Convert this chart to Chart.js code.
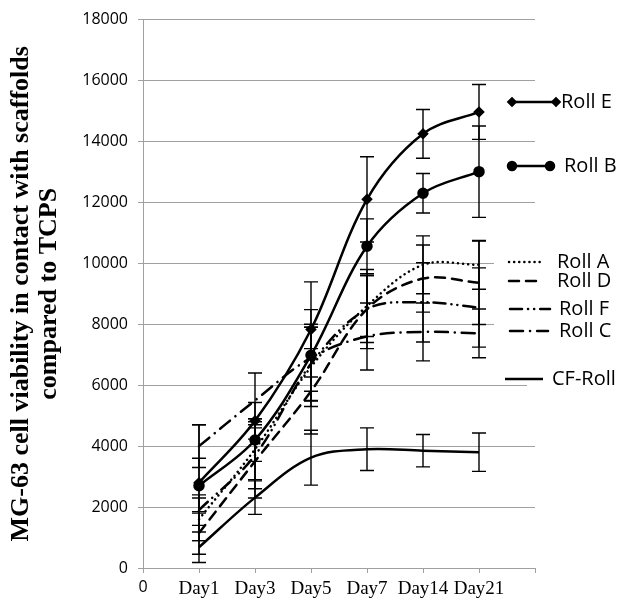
<!DOCTYPE html>
<html>
<head>
<meta charset="utf-8">
<script src="https://cdn.jsdelivr.net/npm/chart.js@4.4.1/dist/chart.umd.min.js"></script>
<style>
  html, body { margin: 0; padding: 0; background: #fff; }
  #wrap { width: 626px; height: 602px; }
</style>
</head>
<body>
<div id="wrap"><canvas id="c" width="626" height="602"></canvas></div>
<script>
// categories ("0" at the origin, blank slot at the right end like the Excel original)
const days = ["0", "Day1", "Day3", "Day5", "Day7", "Day14", "Day21", ""];

// mean values
const rollE  = [null, 2800, 4830, 7830, 12100, 14250, 14970, null];
const rollB  = [null, 2700, 4200, 6980, 10560, 12300, 13010, null];
const rollA  = [null, 1600, 3900, 6600, 8600, 9950, 9950, null];
const rollD  = [null, 1150, 3500, 5800, 8500, 9500, 9360, null];
const rollF  = [null, 1900, 3700, 6700, 8500, 8720, 8550, null];
const rollC  = [null, 4000, 5500, 6900, 7600, 7750, 7700, null];
const cfRoll = [null, 680, 2310, 3620, 3900, 3850, 3800, null];

// error bar half heights
const errE  = [null, 1900, 600, 1560, 1400, 800, 900, null];
const errB  = [null, 900, 700, 1500, 900, 650, 1500, null];
const errA  = [null, 700, 1000, 1300, 1000, 950, 800, null];
const errD  = [null, 700, 1200, 1400, 1100, 1100, 1370, null];
const errF  = [null, 500, 1100, 1200, 1300, 1300, 1300, null];
const errC  = [null, 700, 900, 1100, 1100, 950, 800, null];
const errCF = [null, 500, 550, 900, 700, 530, 630, null];

const yTicks = [0, 2000, 4000, 6000, 8000, 10000, 12000, 14000, 16000, 18000];

function line(label, data, err, dash, extra) {
  return Object.assign({
    label: label,
    data: data,
    err: err,
    borderColor: "#000",
    backgroundColor: "#000",
    borderWidth: 2.5,
    borderDash: dash,
    borderCapStyle: dash.length ? "round" : "butt",
    tension: 0.35,
    pointRadius: 0,
    fill: false
  }, extra || {});
}

const datasets = [
  line("Roll E", rollE, errE, [], { pointStyle: "rectRot", pointRadius: 4 }),
  line("Roll B", rollB, errB, [], { pointStyle: "circle", pointRadius: 4.5 }),
  line("Roll A", rollA, errA, [0.1, 5]),
  line("Roll D", rollD, errD, [10, 7]),
  line("Roll F", rollF, errF, [12, 6, 0.1, 6, 0.1, 6]),
  line("Roll C", rollC, errC, [13, 7, 0.1, 7]),
  line("CF-Roll", cfRoll, errCF, [])
];

// vertical error bars with caps
const errorBars = {
  id: "errorBars",
  afterDatasetsDraw(chart) {
    const ctx = chart.ctx;
    const y = chart.scales.y;
    ctx.save();
    ctx.strokeStyle = "#000";
    ctx.lineWidth = 1.4;
    chart.data.datasets.forEach((ds, di) => {
      const meta = chart.getDatasetMeta(di);
      ds.data.forEach((v, i) => {
        if (v == null || ds.err[i] == null) return;
        const x = meta.data[i].x;
        const top = y.getPixelForValue(v + ds.err[i]);
        const bot = y.getPixelForValue(v - ds.err[i]);
        ctx.beginPath();
        ctx.moveTo(x, top); ctx.lineTo(x, bot);
        ctx.moveTo(x - 7, top); ctx.lineTo(x + 7, top);
        ctx.moveTo(x - 7, bot); ctx.lineTo(x + 7, bot);
        ctx.stroke();
      });
    });
    ctx.restore();
  }
};

// hand placed legend on the right, as in the original
const sideLegend = {
  id: "sideLegend",
  afterDraw(chart) {
    const ctx = chart.ctx;
    const spots = [
      { x0: 512, x1: 556, y: 102, tx: 561 },
      { x0: 512, x1: 550, y: 166, tx: 564 },
      { x0: 509, x1: 543, y: 262, tx: 557 },
      { x0: 509, x1: 540, y: 281, tx: 557 },
      { x0: 510, x1: 550, y: 309, tx: 559 },
      { x0: 510, x1: 548, y: 331, tx: 559 },
      { x0: 505, x1: 543, y: 379, tx: 552 }
    ];
    ctx.save();
    ctx.fillStyle = "#fff";
    ctx.fillRect(494, 248, 132, 94);
    ctx.fillRect(527, 368, 99, 22);
    chart.data.datasets.forEach((ds, i) => {
      const s = spots[i];
      ctx.strokeStyle = "#000";
      ctx.lineWidth = 2.5;
      ctx.setLineDash(ds.borderDash);
      ctx.lineCap = ds.borderDash.length ? "round" : "butt";
      ctx.beginPath();
      ctx.moveTo(s.x0, s.y); ctx.lineTo(s.x1, s.y);
      ctx.stroke();
      ctx.setLineDash([]);
      if (ds.pointRadius) {
        [s.x0, s.x1].forEach(px => {
          Chart.helpers.drawPoint(ctx, { pointStyle: ds.pointStyle, radius: ds.pointRadius - 0.5, borderWidth: 1 }, px, s.y);
          ctx.fillStyle = "#000";
          ctx.fill();
        });
      }
      ctx.fillStyle = "#000";
      ctx.font = "20px 'Open Sans'";
      ctx.textBaseline = "middle";
      ctx.textAlign = "left";
      ctx.fillText(ds.label, s.tx, s.y);
    });
    ctx.restore();
  }
};

new Chart(document.getElementById("c"), {
  type: "line",
  data: { labels: days, datasets: datasets },
  plugins: [errorBars, sideLegend],
  options: {
    responsive: false,
    animation: false,
    layout: { padding: { top: 16, right: 91, bottom: 0, left: 0 } },
    plugins: { legend: { display: false }, tooltip: { enabled: false } },
    scales: {
      x: {
        offset: false,
        grid: { drawOnChartArea: false, drawTicks: true, tickLength: 5, color: "#a0a0a0" },
        border: { color: "#a0a0a0" },
        ticks: {
          color: "#000",
          padding: 5,
          maxRotation: 0,
          autoSkip: false,
          font: c => c.index === 0
            ? { family: "'Open Sans'", size: 16 }
            : { family: "'Liberation Serif'", size: 19 }
        },
        afterFit: s => { s.height = 34; }
      },
      y: {
        min: 0,
        max: 18000,
        afterBuildTicks: s => { s.ticks = yTicks.map(v => ({ value: v })); },
        grid: { color: "#a0a0a0", tickLength: 5 },
        border: { color: "#a0a0a0" },
        ticks: {
          color: "#000",
          padding: 10,
          font: { family: "'Open Sans'", size: 16 },
          callback: v => String(v)
        },
        title: {
          display: true,
          text: ["MG-63 cell viability in contact with scaffolds", "compared to TCPS"],
          color: "#000",
          font: { family: "'Liberation Serif'", size: 26, weight: "bold", lineHeight: 1.08 },
          padding: { top: 7, bottom: 0 }
        },
        afterFit: s => { s.width = 143; }
      }
    }
  }
});
</script>
</body>
</html>
